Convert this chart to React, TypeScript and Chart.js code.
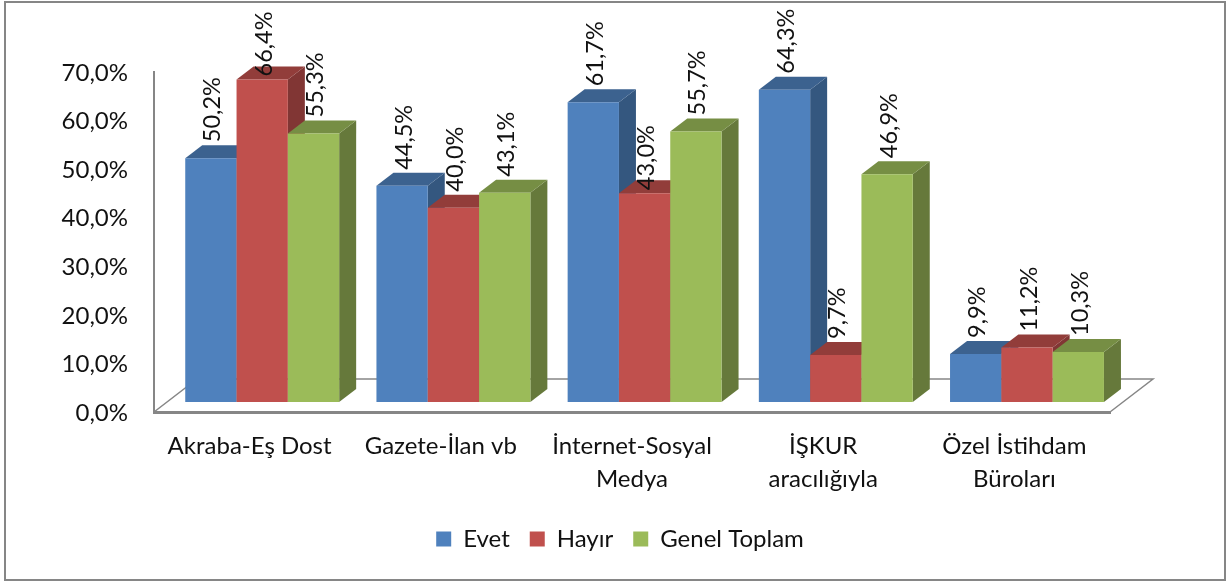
import React, { useEffect, useRef } from "react";
import { Chart, registerables } from "chart.js";

Chart.register(...registerables);

const categories = [
  "Akraba-Eş Dost",
  "Gazete-İlan vb",
  ["İnternet-Sosyal", "Medya"],
  ["İŞKUR", "aracılığıyla"],
  ["Özel İstihdam", "Büroları"],
];
const evet = [50.2, 44.5, 61.7, 64.3, 9.9];
const hayir = [66.4, 40.0, 43.0, 9.7, 11.2];
const genel = [55.3, 43.1, 55.7, 46.9, 10.3];
const yTicksMax = 70;

const FONT = "Lato, Carlito, Calibri, sans-serif";
const TEXT = "#111111";
const AXIS = "#868686";
const SHIFT = { x: 12.6, y: -10 };
const DEPTH = { x: 17, y: -13 };
const FLOOR = { x: 43, y: -33 };
const LEGEND_SHIFT = 65;

const shades: Record<number, { side: string; top: string }> = {
  0: { side: "#34577F", top: "#3C628F" },
  1: { side: "#813634", top: "#923D3A" },
  2: { side: "#66793B", top: "#768E44" },
};

const fmt = (v: number) => v.toFixed(1).replace(".", ",") + "%";
const labelGap = (v: number) => (v === 66.4 || v === 43.0 ? 3 : 16);

const threeD = {
  id: "threeD",
  afterLayout(chart: any) {
    chart.legend.left += LEGEND_SHIFT;
    chart.legend.right += LEGEND_SHIFT;
  },
  beforeDraw(chart: any) {
    const { ctx, width, height } = chart;
    ctx.save();
    ctx.fillStyle = "#FFFFFF";
    ctx.fillRect(0, 0, width, height);
    ctx.strokeStyle = AXIS;
    ctx.lineWidth = 2;
    ctx.strokeRect(5, 2, width - 7, height - 3);
    ctx.restore();
  },
  beforeDatasetsDraw(chart: any) {
    const { ctx, scales } = chart;
    const x0 = scales.x.left;
    const x1 = scales.x.right;
    const y0 = scales.y.getPixelForValue(0);
    ctx.save();
    ctx.strokeStyle = AXIS;
    ctx.lineWidth = 1.5;
    ctx.beginPath();
    ctx.moveTo(x0, y0);
    ctx.lineTo(x0 + FLOOR.x, y0 + FLOOR.y);
    ctx.lineTo(x1 + FLOOR.x, y0 + FLOOR.y);
    ctx.lineTo(x1, y0);
    ctx.stroke();
    ctx.restore();

    // Paint left to right so each bar's front hides its neighbour's side face.
    chart.data.datasets.forEach((_: any, i: number) => {
      const c = shades[i];
      ctx.save();
      ctx.translate(SHIFT.x, SHIFT.y);
      chart.getDatasetMeta(i).data.forEach((bar: any) => {
        const l = bar.x - bar.width / 2;
        const r = bar.x + bar.width / 2;
        const t = bar.y;
        const b = bar.base;
        ctx.fillStyle = c.side;
        ctx.beginPath();
        ctx.moveTo(r, t);
        ctx.lineTo(r + DEPTH.x, t + DEPTH.y);
        ctx.lineTo(r + DEPTH.x, b + DEPTH.y);
        ctx.lineTo(r, b);
        ctx.closePath();
        ctx.fill();
        ctx.fillStyle = c.top;
        ctx.beginPath();
        ctx.moveTo(l, t);
        ctx.lineTo(l + DEPTH.x, t + DEPTH.y);
        ctx.lineTo(r + DEPTH.x, t + DEPTH.y);
        ctx.lineTo(r, t);
        ctx.closePath();
        ctx.fill();
        bar.draw(ctx);
      });
      ctx.restore();
    });

    ctx.save();
    ctx.font = `23.5px ${FONT}`;
    ctx.fillStyle = TEXT;
    ctx.textAlign = "left";
    ctx.textBaseline = "middle";
    chart.data.datasets.forEach((ds: any, i: number) => {
      chart.getDatasetMeta(i).data.forEach((bar: any, j: number) => {
        const v = ds.data[j];
        ctx.save();
        ctx.translate(bar.x + SHIFT.x + 2, bar.y + SHIFT.y - labelGap(v));
        ctx.rotate(-Math.PI / 2);
        ctx.fillText(fmt(v), 0, 0);
        ctx.restore();
      });
    });
    ctx.restore();
    return false;
  },
};

export default function App() {
  const ref = useRef<HTMLCanvasElement>(null);
  useEffect(() => {
    const bars = { categoryPercentage: 0.805, barPercentage: 1, borderWidth: 0 };
    const chart = new Chart(ref.current!, {
      type: "bar",
      data: {
        labels: categories as any,
        datasets: [
          { label: "Evet", data: evet, backgroundColor: "#4F81BD", ...bars },
          { label: "Hayır", data: hayir, backgroundColor: "#C0504D", ...bars },
          { label: "Genel Toplam", data: genel, backgroundColor: "#9BBB59", ...bars },
        ],
      },
      options: {
        animation: false,
        responsive: false,
        layout: { padding: { left: 0, top: 72, right: 117, bottom: 20 } },
        scales: {
          x: {
            afterFit: (s: any) => { s.height = 95; },
            grid: { display: false, drawTicks: false },
            border: { display: true, color: AXIS, width: 3 },
            ticks: {
              color: TEXT,
              font: { family: FONT, size: 24, lineHeight: 1.38 },
              padding: 18,
              maxRotation: 0,
              autoSkip: false,
            },
          },
          y: {
            min: 0,
            max: yTicksMax,
            afterFit: (s: any) => { s.width = 154; },
            grid: { display: false, drawTicks: false },
            border: { display: true, color: AXIS, width: 2 },
            ticks: {
              stepSize: 10,
              color: TEXT,
              font: { family: FONT, size: 24 },
              padding: 26,
              labelOffset: 1,
              callback: (v: any) => fmt(Number(v)),
            },
          },
        },
        plugins: {
          tooltip: { enabled: false },
          legend: {
            position: "bottom",
            labels: {
              boxWidth: 15,
              boxHeight: 15,
              padding: 20,
              color: TEXT,
              font: { family: FONT, size: 24 },
            },
          },
        },
      } as any,
      plugins: [threeD],
    });
    return () => chart.destroy();
  }, []);
  return (
    <div style={{ position: "absolute", left: 0, top: 0 }}>
      <canvas ref={ref} width={1227} height={581} style={{ display: "block" }} />
    </div>
  );
}
